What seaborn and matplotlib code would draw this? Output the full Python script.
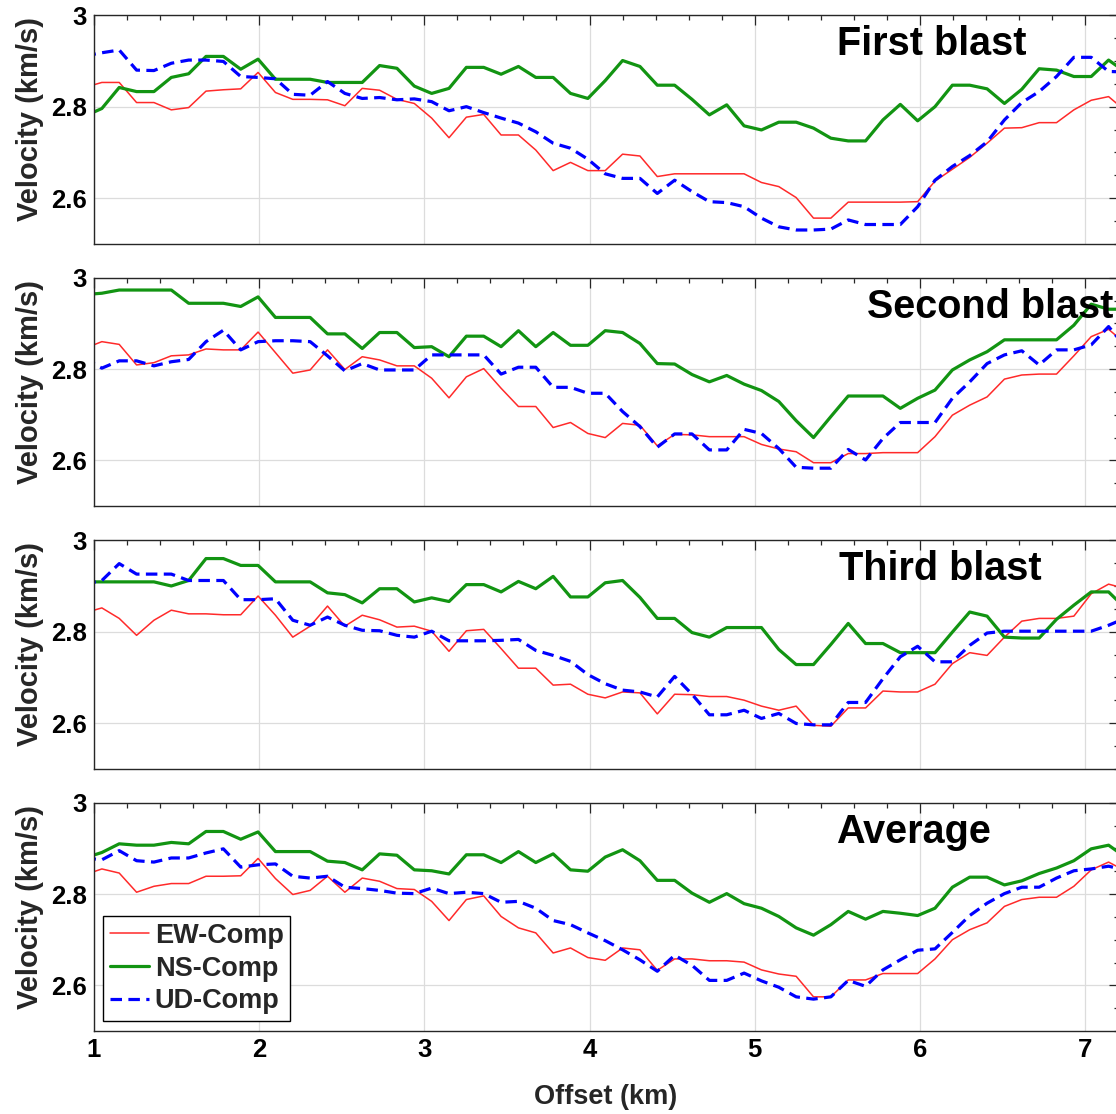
import matplotlib
matplotlib.use("Agg")
import matplotlib.pyplot as plt
import seaborn as sns
import pandas as pd
from matplotlib.ticker import FixedLocator, FixedFormatter, MultipleLocator

# ---------------- data ----------------
offsets = [0.945, 1.050, 1.155, 1.260, 1.365, 1.470, 1.575, 1.680, 1.785, 1.890,
           1.995, 2.100, 2.205, 2.310, 2.415, 2.520, 2.625, 2.730, 2.835, 2.940,
           3.045, 3.150, 3.255, 3.360, 3.465, 3.570, 3.675, 3.780, 3.885, 3.990,
           4.095, 4.200, 4.305, 4.410, 4.515, 4.620, 4.725, 4.830, 4.935, 5.040,
           5.145, 5.250, 5.355, 5.460, 5.565, 5.670, 5.775, 5.880, 5.985, 6.090,
           6.195, 6.300, 6.405, 6.510, 6.615, 6.720, 6.825, 6.930, 7.035, 7.140,
           7.245]

ew_first = [2.842, 2.853, 2.853, 2.809, 2.809, 2.793, 2.798, 2.834, 2.837, 2.839,
            2.875, 2.831, 2.816, 2.816, 2.815, 2.802, 2.840, 2.836, 2.816, 2.807,
            2.775, 2.732, 2.777, 2.783, 2.738, 2.738, 2.705, 2.660, 2.678, 2.660,
            2.660, 2.696, 2.692, 2.647, 2.653, 2.653, 2.653, 2.653, 2.653, 2.634,
            2.625, 2.601, 2.556, 2.556, 2.591, 2.591, 2.591, 2.591, 2.592, 2.637,
            2.663, 2.689, 2.720, 2.753, 2.754, 2.765, 2.765, 2.793, 2.814, 2.822,
            2.790]
ns_first = [2.779, 2.796, 2.842, 2.833, 2.833, 2.864, 2.872, 2.910, 2.910, 2.882,
            2.904, 2.860, 2.860, 2.860, 2.853, 2.853, 2.853, 2.890, 2.884, 2.845,
            2.829, 2.840, 2.886, 2.886, 2.871, 2.888, 2.864, 2.864, 2.829, 2.818,
            2.857, 2.901, 2.888, 2.847, 2.847, 2.816, 2.782, 2.804, 2.758, 2.749,
            2.766, 2.766, 2.753, 2.731, 2.725, 2.725, 2.771, 2.805, 2.769, 2.800,
            2.847, 2.847, 2.839, 2.807, 2.838, 2.883, 2.880, 2.866, 2.866, 2.902,
            2.875]
ud_first = [2.911, 2.918, 2.924, 2.880, 2.879, 2.895, 2.902, 2.902, 2.899, 2.866,
            2.864, 2.861, 2.827, 2.825, 2.855, 2.829, 2.818, 2.820, 2.815, 2.817,
            2.811, 2.791, 2.800, 2.787, 2.775, 2.764, 2.745, 2.720, 2.709, 2.685,
            2.653, 2.643, 2.643, 2.610, 2.639, 2.614, 2.592, 2.590, 2.581, 2.556,
            2.537, 2.530, 2.530, 2.532, 2.552, 2.542, 2.542, 2.542, 2.581, 2.639,
            2.669, 2.693, 2.723, 2.771, 2.809, 2.833, 2.866, 2.908, 2.908, 2.877,
            2.876]

ew_second = [2.845, 2.860, 2.854, 2.809, 2.814, 2.829, 2.831, 2.844, 2.842, 2.842,
             2.881, 2.836, 2.791, 2.798, 2.842, 2.799, 2.827, 2.820, 2.807, 2.807,
             2.780, 2.737, 2.783, 2.801, 2.758, 2.718, 2.718, 2.672, 2.683, 2.659,
             2.650, 2.681, 2.677, 2.632, 2.657, 2.656, 2.652, 2.652, 2.652, 2.635,
             2.625, 2.619, 2.595, 2.595, 2.615, 2.615, 2.617, 2.617, 2.617, 2.652,
             2.699, 2.721, 2.739, 2.778, 2.787, 2.789, 2.789, 2.829, 2.871, 2.887,
             2.855]
ns_second = [2.963, 2.966, 2.973, 2.973, 2.973, 2.973, 2.944, 2.944, 2.944, 2.937,
             2.958, 2.913, 2.913, 2.913, 2.877, 2.877, 2.845, 2.880, 2.880, 2.847,
             2.849, 2.827, 2.872, 2.872, 2.849, 2.884, 2.849, 2.880, 2.852, 2.852,
             2.884, 2.880, 2.856, 2.812, 2.811, 2.788, 2.772, 2.786, 2.767, 2.753,
             2.729, 2.687, 2.650, 2.696, 2.741, 2.741, 2.741, 2.714, 2.736, 2.754,
             2.798, 2.820, 2.838, 2.864, 2.864, 2.864, 2.864, 2.896, 2.942, 2.931,
             2.931]
ud_second = [2.823, 2.802, 2.818, 2.818, 2.807, 2.816, 2.821, 2.860, 2.885, 2.842,
             2.860, 2.862, 2.862, 2.860, 2.829, 2.796, 2.812, 2.798, 2.798, 2.798,
             2.831, 2.831, 2.831, 2.831, 2.789, 2.804, 2.804, 2.760, 2.760, 2.747,
             2.747, 2.707, 2.674, 2.629, 2.658, 2.658, 2.623, 2.623, 2.668, 2.659,
             2.626, 2.585, 2.583, 2.583, 2.624, 2.601, 2.648, 2.683, 2.683, 2.683,
             2.736, 2.772, 2.812, 2.831, 2.840, 2.809, 2.842, 2.842, 2.853, 2.893,
             2.847]

ew_third = [2.841, 2.852, 2.829, 2.792, 2.825, 2.847, 2.839, 2.839, 2.837, 2.837,
            2.878, 2.836, 2.788, 2.812, 2.856, 2.812, 2.836, 2.826, 2.810, 2.812,
            2.801, 2.757, 2.802, 2.805, 2.763, 2.720, 2.720, 2.683, 2.685, 2.663,
            2.655, 2.668, 2.666, 2.620, 2.663, 2.662, 2.658, 2.658, 2.650, 2.637,
            2.628, 2.637, 2.595, 2.593, 2.633, 2.633, 2.670, 2.668, 2.668, 2.685,
            2.730, 2.754, 2.748, 2.788, 2.823, 2.829, 2.829, 2.834, 2.883, 2.904,
            2.894]
ns_third = [2.909, 2.909, 2.909, 2.909, 2.909, 2.900, 2.912, 2.960, 2.960, 2.945,
            2.945, 2.909, 2.909, 2.909, 2.885, 2.881, 2.863, 2.894, 2.894, 2.865,
            2.874, 2.866, 2.903, 2.903, 2.887, 2.910, 2.894, 2.921, 2.876, 2.876,
            2.907, 2.912, 2.875, 2.829, 2.829, 2.798, 2.788, 2.809, 2.809, 2.809,
            2.761, 2.728, 2.728, 2.772, 2.818, 2.774, 2.774, 2.754, 2.754, 2.754,
            2.799, 2.843, 2.834, 2.788, 2.786, 2.786, 2.827, 2.858, 2.887, 2.887,
            2.850]
ud_third = [2.904, 2.912, 2.949, 2.926, 2.926, 2.926, 2.912, 2.912, 2.912, 2.870,
            2.870, 2.872, 2.825, 2.814, 2.832, 2.814, 2.803, 2.802, 2.792, 2.788,
            2.801, 2.780, 2.780, 2.780, 2.781, 2.783, 2.759, 2.748, 2.735, 2.706,
            2.686, 2.672, 2.668, 2.657, 2.702, 2.663, 2.618, 2.618, 2.628, 2.610,
            2.621, 2.599, 2.596, 2.596, 2.645, 2.645, 2.697, 2.745, 2.768, 2.734,
            2.734, 2.770, 2.797, 2.801, 2.801, 2.801, 2.801, 2.801, 2.801, 2.814,
            2.830]

ew_average = [2.842, 2.855, 2.846, 2.804, 2.817, 2.823, 2.823, 2.839, 2.839, 2.840,
              2.878, 2.834, 2.799, 2.808, 2.839, 2.804, 2.835, 2.828, 2.812, 2.810,
              2.784, 2.742, 2.788, 2.796, 2.751, 2.726, 2.715, 2.671, 2.682, 2.661,
              2.655, 2.682, 2.678, 2.633, 2.658, 2.658, 2.654, 2.654, 2.651, 2.634,
              2.625, 2.620, 2.575, 2.575, 2.612, 2.612, 2.626, 2.626, 2.626, 2.658,
              2.700, 2.722, 2.737, 2.773, 2.788, 2.793, 2.793, 2.817, 2.853, 2.870,
              2.850]
ns_average = [2.879, 2.891, 2.910, 2.907, 2.907, 2.913, 2.910, 2.937, 2.937, 2.920,
              2.936, 2.893, 2.893, 2.893, 2.872, 2.869, 2.853, 2.888, 2.885, 2.853,
              2.851, 2.844, 2.886, 2.886, 2.869, 2.893, 2.869, 2.888, 2.853, 2.850,
              2.881, 2.897, 2.873, 2.830, 2.830, 2.802, 2.782, 2.801, 2.779, 2.769,
              2.751, 2.726, 2.710, 2.733, 2.762, 2.745, 2.762, 2.758, 2.753, 2.769,
              2.815, 2.837, 2.837, 2.820, 2.829, 2.845, 2.857, 2.873, 2.899, 2.907,
              2.880]
ud_average = [2.879, 2.875, 2.895, 2.873, 2.870, 2.879, 2.879, 2.890, 2.899, 2.859,
              2.864, 2.866, 2.839, 2.835, 2.839, 2.815, 2.812, 2.808, 2.802, 2.801,
              2.813, 2.801, 2.804, 2.801, 2.782, 2.784, 2.769, 2.742, 2.733, 2.715,
              2.698, 2.678, 2.656, 2.631, 2.666, 2.644, 2.611, 2.611, 2.627, 2.610,
              2.596, 2.575, 2.570, 2.575, 2.611, 2.598, 2.634, 2.656, 2.677, 2.680,
              2.716, 2.753, 2.780, 2.801, 2.815, 2.815, 2.835, 2.851, 2.855, 2.861,
              2.852]

panel_titles = ["First blast", "Second blast", "Third blast", "Average"]
components = ["EW-Comp", "NS-Comp", "UD-Comp"]
x_ticks = [1, 2, 3, 4, 5, 6, 7]
x_tick_labels = ["1", "2", "3", "4", "5", "6", "7"]
y_ticks = [2.6, 2.8, 3.0]
y_tick_labels = ["2.6", "2.8", "3"]
y_label = "Velocity (km/s)"
x_label = "Offset (km)"

panels = [
    (ew_first, ns_first, ud_first),
    (ew_second, ns_second, ud_second),
    (ew_third, ns_third, ud_third),
    (ew_average, ns_average, ud_average),
]

# ---------------- styling ----------------
sns.set_theme(style="white")
plt.rcParams["font.family"] = ["Liberation Sans", "DejaVu Sans"]
plt.rcParams["font.weight"] = "bold"
plt.rcParams["axes.labelweight"] = "bold"

styles = {
    "EW-Comp": dict(color="#ff2a2a", linewidth=1.1, linestyle="-"),
    "NS-Comp": dict(color="#129412", linewidth=2.3, linestyle="-"),
    "UD-Comp": dict(color="#0000ff", linewidth=2.3, linestyle=(0, (3.6, 2.0))),
}

W, H = 1116.0, 1114.0
left_px, right_px = 93.6, 1118.5
tops_px = [15.3, 277.7, 540.3, 802.7]
h_px = 228.4
title_x = [5.50, 5.68, 5.51, 5.49]

fig = plt.figure(figsize=(W / 100, H / 100), dpi=100)
fig.patch.set_facecolor("white")

for i, (top, series) in enumerate(zip(tops_px, panels)):
    ax = fig.add_axes([left_px / W, 1 - (top + h_px) / H,
                       (right_px - left_px) / W, h_px / H])
    df = pd.DataFrame({
        "Offset": offsets * 3,
        "Velocity": list(series[0]) + list(series[1]) + list(series[2]),
        "Component": [c for c in components for _ in offsets],
    })
    for comp in components:
        sub = df[df["Component"] == comp]
        sns.lineplot(data=sub, x="Offset", y="Velocity", ax=ax, label=comp,
                     sort=False, estimator=None, **styles[comp])

    ax.set_xlim(1, 7.2)
    ax.set_ylim(2.5, 3.0)
    ax.xaxis.set_major_locator(FixedLocator(x_ticks))
    ax.xaxis.set_minor_locator(MultipleLocator(0.2))
    ax.yaxis.set_major_locator(FixedLocator(y_ticks))
    ax.yaxis.set_major_formatter(FixedFormatter(y_tick_labels))
    ax.yaxis.set_minor_locator(MultipleLocator(0.05))
    ax.grid(True, which="major", color="#dcdcdc", linewidth=0.9)
    ax.set_axisbelow(True)
    ax.tick_params(which="both", direction="in", top=True, right=True,
                   colors="#262626", labelcolor="black", labelsize=18.5, width=0.9)
    ax.tick_params(which="major", length=7, pad=5)
    ax.tick_params(which="minor", length=3.5)
    for sp in ax.spines.values():
        sp.set_color("#262626")
        sp.set_linewidth(1.0)
    ax.set_ylabel(y_label, fontsize=21, fontweight="bold")
    ax.yaxis.set_label_coords(-0.048, 0.545)
    if i < 3:
        ax.set_xticklabels([])
        ax.set_xlabel("")
    else:
        ax.xaxis.set_major_formatter(FixedFormatter(x_tick_labels))
        ax.set_xlabel(x_label, fontsize=19.5, fontweight="bold")
        ax.xaxis.set_label_coords(0.5, -0.232)
    for lab in ax.get_xticklabels() + ax.get_yticklabels():
        lab.set_fontweight("bold")
    ax.text(title_x[i], 2.912, panel_titles[i], fontsize=28.5, fontweight="bold",
            ha="left", va="baseline", color="black")
    if i < 3:
        leg = ax.get_legend()
        if leg is not None:
            leg.remove()
    else:
        leg = ax.legend(loc="lower left", bbox_to_anchor=(0.009, 0.044),
                        borderaxespad=0, frameon=True, fancybox=False,
                        framealpha=1, edgecolor="black", handlelength=1.45,
                        handletextpad=0.22, labelspacing=0.25, borderpad=0.25,
                        prop={"weight": "bold", "size": 19.5})
        leg.get_frame().set_linewidth(1.0)

fig.savefig("out.png", dpi=100, facecolor="white")
